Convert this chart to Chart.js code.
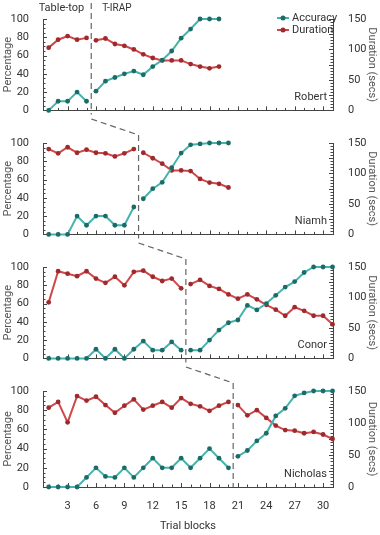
<!DOCTYPE html>
<html>
<head>
<meta charset="utf-8">
<script src="https://cdn.jsdelivr.net/npm/chart.js@4.4.0/dist/chart.umd.min.js"></script>
<style>
    html, body { margin: 0; padding: 0; background: #fff; }
    body { width: 380px; height: 535px; position: relative; overflow: hidden; }
    canvas { position: absolute; left: 0; }
</style>
</head>
<body>
<canvas id="p1" width="380" height="134" style="top:-10px"></canvas>
<canvas id="p2" width="380" height="134" style="top:114px"></canvas>
<canvas id="p3" width="380" height="134" style="top:238px"></canvas>
<canvas id="p4" width="380" height="173" style="top:362px"></canvas>
<script>
const X_TICKS = [3, 6, 9, 12, 15, 18, 21, 24, 27, 30];
const PCT_TICKS = [0, 20, 40, 60, 80, 100];
const SEC_TICKS = [0, 25, 50, 75, 100, 125, 150];

const robertAccBase = [0, 10, 10, 20, 10];
const robertAccIrap = [21, 32, 36, 40, 43, 39, 48, 55, 65, 79, 89, 100, 100, 100];
const robertDurBase = [103, 116, 122, 116, 119];
const robertDurIrap = [115, 118, 109, 106, 100, 92, 86, 82, 82, 82, 76, 72, 69, 72];

const niamhAccBase = [0, 0, 0, 20, 10, 20, 20, 10, 10, 30];
const niamhAccIrap = [39, 50, 57, 73, 89, 98, 99, 100, 100, 100];
const niamhDurBase = [140, 133, 143, 134, 139, 134, 133, 128, 133, 140];
const niamhDurIrap = [134, 125, 116, 105, 105, 104, 91, 85, 83, 77];

const conorAccBase = [0, 0, 0, 0, 0, 10, 0, 10, 0, 10, 19, 9, 9, 18, 9];
const conorAccIrap = [9, 9, 20, 31, 39, 42, 58, 53, 60, 69, 78, 84, 94, 100, 100, 100];
const conorDurBase = [92, 143, 139, 135, 143, 131, 124, 134, 120, 142, 144, 134, 127, 131, 115];
const conorDurIrap = [122, 129, 119, 114, 105, 98, 105, 97, 88, 80, 70, 84, 78, 70, 70, 56];

const nicholasAccBase = [0, 0, 0, 0, 10, 20, 11, 10, 20, 10, 20, 30, 20, 20, 30, 20, 30, 40, 30, 20];
const nicholasAccIrap = [32, 38, 48, 56, 74, 82, 95, 98, 100, 100, 100];
const nicholasDurBase = [124, 133, 101, 142, 135, 141, 128, 116, 127, 137, 121, 127, 133, 124, 139, 130, 126, 119, 127, 133];
const nicholasDurIrap = [128, 112, 120, 108, 96, 89, 88, 84, 86, 82, 75];

const PANELS = [
    { id: 'p1', name: 'Robert', accBase: robertAccBase, accIrap: robertAccIrap, durBase: robertDurBase, durIrap: robertDurIrap },
    { id: 'p2', name: 'Niamh', accBase: niamhAccBase, accIrap: niamhAccIrap, durBase: niamhDurBase, durIrap: niamhDurIrap },
    { id: 'p3', name: 'Conor', accBase: conorAccBase, accIrap: conorAccIrap, durBase: conorDurBase, durIrap: conorDurIrap },
    { id: 'p4', name: 'Nicholas', accBase: nicholasAccBase, accIrap: nicholasAccIrap, durBase: nicholasDurBase, durIrap: nicholasDurIrap }
];

const FONT = 'Roboto, "Liberation Sans", sans-serif';
const TEAL_LINE = '#45b3ad';
const TEAL_DOT = '#1c6b66';
const RED_LINE = '#cf474b';
const RED_DOT = '#9e2a2c';
const AXIS = '#444';
const TEXT = '#333';

function toPoints(base, irap) {
    const pts = base.map((v, i) => ({ x: i + 1, y: v }));
    pts.push({ x: base.length + 0.5, y: null });
    irap.forEach((v, i) => pts.push({ x: base.length + 1 + i, y: v }));
    return pts;
}

function dashedLine(ctx, pts) {
    ctx.save();
    ctx.strokeStyle = '#666';
    ctx.lineWidth = 1.2;
    ctx.setLineDash([6, 4]);
    ctx.beginPath();
    ctx.moveTo(pts[0][0], pts[0][1]);
    pts.slice(1).forEach(p => ctx.lineTo(p[0], p[1]));
    ctx.stroke();
    ctx.restore();
}

const panelDeco = {
    id: 'panelDeco',
    beforeDatasetsDraw(chart, args, opts) {
        const { ctx, chartArea } = chart;
        const x = chart.scales.x;
        const yl = chart.scales.y;
        const yr = chart.scales.y2;
        ctx.save();
        ctx.strokeStyle = AXIS;
        ctx.lineWidth = 1;
        // inner tick marks
        for (let t = 1; t <= 31; t++) {
            const px = Math.round(x.getPixelForValue(t)) + 0.5;
            const len = t % 3 === 0 ? 4 : 2.5;
            ctx.beginPath();
            ctx.moveTo(px, chartArea.bottom);
            ctx.lineTo(px, chartArea.bottom - len);
            ctx.stroke();
        }
        for (let v = 0; v <= 100; v += 5) {
            const py = Math.round(yl.getPixelForValue(v)) + 0.5;
            const len = v % 20 === 0 ? 4 : 2.5;
            ctx.beginPath();
            ctx.moveTo(chartArea.left, py);
            ctx.lineTo(chartArea.left + len, py);
            ctx.stroke();
        }
        for (let v = 0; v <= 150; v += 5) {
            const py = Math.round(yr.getPixelForValue(v)) + 0.5;
            const len = v % 25 === 0 ? 4 : 2.5;
            ctx.beginPath();
            ctx.moveTo(chartArea.right, py);
            ctx.lineTo(chartArea.right - len, py);
            ctx.stroke();
        }
        ctx.restore();

        // phase change line and connector from the panel above
        const px = x.getPixelForValue(opts.phase);
        const bottomExt = opts.last ? 0 : 4;
        if (opts.prevPhase) {
            const prevX = x.getPixelForValue(opts.prevPhase);
            dashedLine(ctx, [[prevX, chartArea.top - 24], [px, chartArea.top - 8], [px, chartArea.bottom + bottomExt]]);
        } else {
            dashedLine(ctx, [[px, chartArea.top - 16], [px, chartArea.bottom + bottomExt]]);
        }
    },
    afterDraw(chart, args, opts) {
        const { ctx, chartArea } = chart;
        ctx.save();
        ctx.fillStyle = TEXT;
        ctx.font = '11px ' + FONT;
        ctx.textBaseline = 'middle';
        ctx.textAlign = 'right';
        ctx.fillText(opts.name, chartArea.right - 6, chartArea.bottom - 13);
        if (!opts.prevPhase) {
            const px = chart.scales.x.getPixelForValue(opts.phase);
            ctx.fillText('Table-top', px - 7, chartArea.top - 11);
            ctx.textAlign = 'left';
            ctx.font = '10px ' + FONT;
            ctx.fillText('T-IRAP', px + 11, chartArea.top - 11);
            // legend
            ctx.font = '11px ' + FONT;
            chart.data.datasets.forEach((ds, i) => {
                const ly = chartArea.top - 1 + i * 12;
                const lx = chartArea.right - 56;
                ctx.strokeStyle = ds.borderColor;
                ctx.lineWidth = 2;
                ctx.beginPath();
                ctx.moveTo(lx, ly);
                ctx.lineTo(lx + 12, ly);
                ctx.stroke();
                ctx.fillStyle = ds.pointBackgroundColor;
                ctx.beginPath();
                ctx.arc(lx + 6, ly, 2.5, 0, Math.PI * 2);
                ctx.fill();
                ctx.fillStyle = TEXT;
                ctx.fillText(ds.label, lx + 15, ly);
            });
        }
        ctx.restore();
    }
};

PANELS.forEach((panel, index) => {
    const last = index === PANELS.length - 1;
    const phase = panel.accBase.length + 0.5;
    const prevPhase = index > 0 ? PANELS[index - 1].accBase.length + 0.5 : null;
    new Chart(document.getElementById(panel.id), {
        type: 'line',
        data: {
            datasets: [
                {
                    label: 'Accuracy',
                    data: toPoints(panel.accBase, panel.accIrap),
                    yAxisID: 'y',
                    borderColor: TEAL_LINE,
                    pointBackgroundColor: TEAL_DOT,
                    pointBorderWidth: 0,
                    pointRadius: 2.4,
                    borderWidth: 2,
                    spanGaps: false,
                    clip: false
                },
                {
                    label: 'Duration',
                    data: toPoints(panel.durBase, panel.durIrap),
                    yAxisID: 'y2',
                    borderColor: RED_LINE,
                    pointBackgroundColor: RED_DOT,
                    pointBorderWidth: 0,
                    pointRadius: 2.4,
                    borderWidth: 2,
                    spanGaps: false,
                    clip: false
                }
            ]
        },
        options: {
            responsive: false,
            animation: false,
            events: [],
            layout: { padding: { top: 29, left: 0, right: 0, bottom: 0 } },
            scales: {
                x: {
                    type: 'linear',
                    min: 0.4,
                    max: 31.05,
                    grid: { display: false },
                    border: { display: true, color: AXIS, width: 1 },
                    afterBuildTicks(scale) {
                        scale.ticks = X_TICKS.map(v => ({ value: v }));
                    },
                    afterFit(scale) {
                        scale.height = last ? 48 : 9;
                    },
                    ticks: {
                        display: last,
                        padding: 5,
                        color: TEXT,
                        font: { family: FONT, size: 11 },
                        maxRotation: 0
                    },
                    title: {
                        display: last,
                        text: 'Trial blocks',
                        color: TEXT,
                        font: { family: FONT, size: 11 },
                        padding: { top: 0, bottom: 2 }
                    }
                },
                y: {
                    position: 'left',
                    min: 0,
                    max: 100,
                    grid: { display: false },
                    border: { display: true, color: AXIS, width: 1 },
                    afterBuildTicks(scale) {
                        scale.ticks = PCT_TICKS.map(v => ({ value: v }));
                    },
                    afterFit(scale) {
                        scale.width = 43;
                    },
                    ticks: {
                        padding: 6,
                        color: TEXT,
                        font: { family: FONT, size: 11 }
                    },
                    title: {
                        display: true,
                        text: 'Percentage',
                        color: '#555',
                        font: { family: FONT, size: 11 },
                        padding: { top: 2, bottom: 0 }
                    }
                },
                y2: {
                    position: 'right',
                    min: 0,
                    max: 150,
                    grid: { display: false },
                    border: { display: true, color: AXIS, width: 1 },
                    afterBuildTicks(scale) {
                        scale.ticks = SEC_TICKS.map(v => ({ value: v }));
                    },
                    afterFit(scale) {
                        scale.width = 47;
                    },
                    ticks: {
                        padding: 7,
                        color: TEXT,
                        font: { family: FONT, size: 11 }
                    },
                    title: {
                        display: true,
                        text: 'Duration (secs)',
                        color: '#555',
                        font: { family: FONT, size: 11 },
                        padding: { top: 2, bottom: 0 }
                    }
                }
            },
            plugins: {
                legend: { display: false },
                tooltip: { enabled: false },
                panelDeco: { name: panel.name, phase, prevPhase, last }
            }
        },
        plugins: [panelDeco]
    });
});
</script>
</body>
</html>
